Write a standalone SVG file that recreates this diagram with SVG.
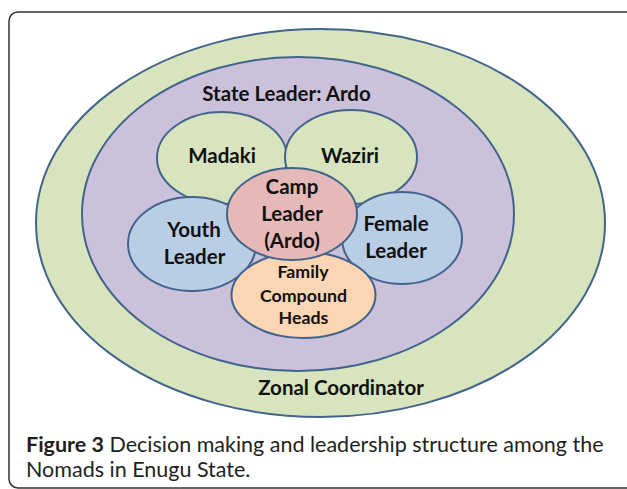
<svg xmlns="http://www.w3.org/2000/svg" width="627" height="489" viewBox="0 0 627 489">
<style>
.n{stroke:#42648c;stroke-width:2}
.g{fill:#d7e4bd}
.p{fill:#ccc1da}
.b{fill:#b9cde5}
.r{fill:#e6b9b8}
.o{fill:#fcd5b5}
.t{font-family:Lato,"Open Sans","Liberation Sans",sans-serif;font-weight:bold;font-size:20.5px;fill:#111;text-anchor:middle}
.s{font-size:17.8px}
.c{font-family:Lato,"Open Sans","Liberation Sans",sans-serif;font-size:21.5px;fill:#231f20}
</style>
<rect x="9" y="12" width="640" height="476" rx="9" fill="#fff" stroke="#333" stroke-width="1.5"/>
<g id="zonal">
<ellipse class="n g" cx="320.5" cy="223" rx="284.5" ry="194"/>
<text class="t" x="341" y="395">Zonal Coordinator</text>
</g>
<g id="state">
<ellipse class="n p" cx="298" cy="214" rx="216" ry="157"/>
<text class="t" x="286.5" y="101">State Leader: Ardo</text>
</g>
<g id="madaki">
<ellipse class="n g" cx="222" cy="158" rx="65" ry="46"/>
<text class="t" x="222" y="163">Madaki</text>
</g>
<g id="waziri">
<ellipse class="n g" cx="351" cy="157" rx="66" ry="47"/>
<text class="t" x="350" y="163">Waziri</text>
</g>
<g id="youth">
<ellipse class="n b" cx="192" cy="244" rx="64" ry="47"/>
<text class="t" x="194" y="237">Youth</text>
<text class="t" x="194.5" y="264">Leader</text>
</g>
<g id="female">
<ellipse class="n b" cx="402" cy="238" rx="60" ry="46"/>
<text class="t" x="396" y="231">Female</text>
<text class="t" x="396" y="258">Leader</text>
</g>
<g id="family">
<ellipse class="n o" cx="303.5" cy="295" rx="72" ry="43"/>
<text class="t s" x="303" y="278">Family</text>
<text class="t s" x="303.5" y="302">Compound</text>
<text class="t s" x="303.5" y="324">Heads</text>
</g>
<g id="camp">
<ellipse class="n r" cx="292" cy="214" rx="65" ry="46"/>
<text class="t" x="292" y="194">Camp</text>
<text class="t" x="292" y="221">Leader</text>
<text class="t" x="292" y="248">(Ardo)</text>
</g>
<g id="connectors"/>
<g id="caption">
<text class="c" x="26" y="452"><tspan font-weight="bold">Figure 3</tspan> Decision making and leadership structure among the</text>
<text class="c" x="26" y="477">Nomads in Enugu State.</text>
</g>
</svg>
